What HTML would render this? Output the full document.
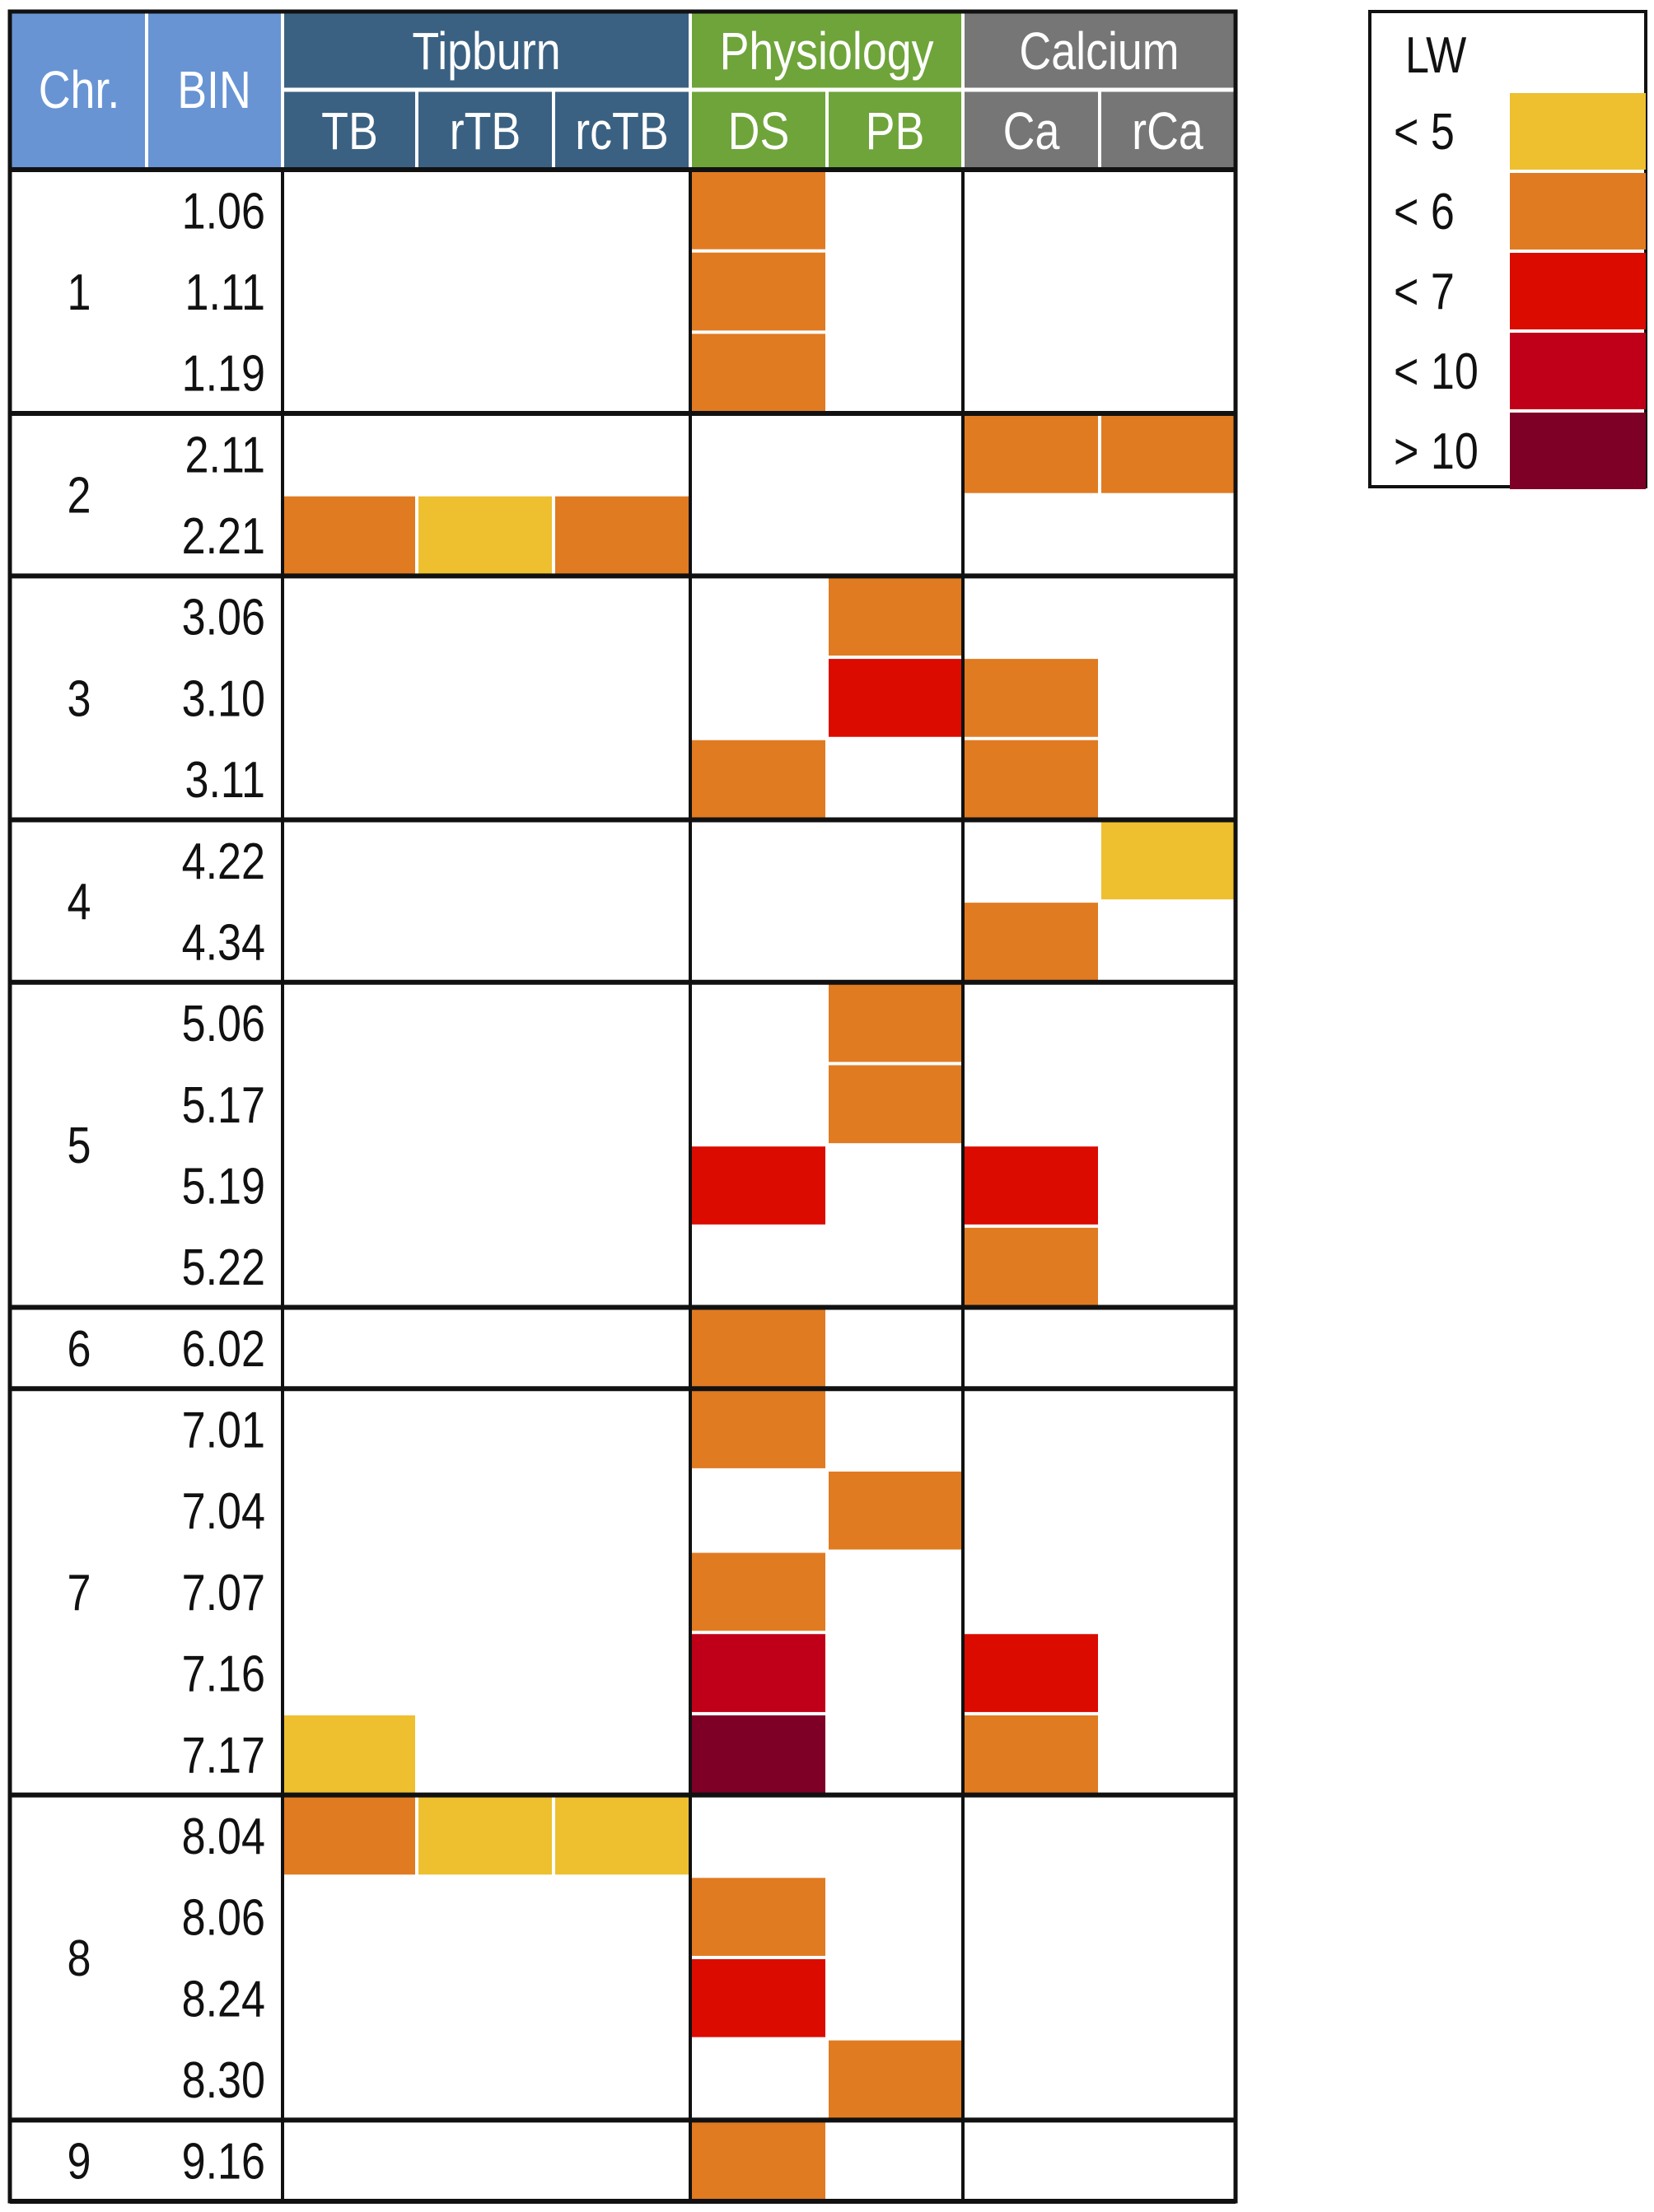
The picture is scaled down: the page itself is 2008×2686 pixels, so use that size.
<!DOCTYPE html>
<html><head><meta charset="utf-8"><style>
html,body{margin:0;padding:0;background:#fff;}
svg{display:block;font-family:"Liberation Sans",sans-serif;}
svg text{transform-box:fill-box;}
.c{transform-origin:center;transform:scaleX(0.84);}
.e{transform-origin:right;transform:scaleX(0.84);}
.s{transform-origin:left;transform:scaleX(0.84);}
</style></head><body>
<svg id="chart" width="2008" height="2686" viewBox="0 0 2008 2686" xmlns="http://www.w3.org/2000/svg"></svg>
<script>
const chromosomes = ["1","2","3","4","5","6","7","8","9"];
const groupSizes = [3,2,3,2,4,1,5,4,1];
const bins = ["1.06","1.11","1.19","2.11","2.21","3.06","3.10","3.11","4.22","4.34","5.06","5.17","5.19","5.22","6.02","7.01","7.04","7.07","7.16","7.17","8.04","8.06","8.24","8.30","9.16"];
const traits = ["TB","rTB","rcTB","DS","PB","Ca","rCa"];
// level per bin per trait: 0 none, 1 <5, 2 <6, 3 <7, 4 <10, 5 >10
const levels = [
[0,0,0,2,0,0,0],[0,0,0,2,0,0,0],[0,0,0,2,0,0,0],
[0,0,0,0,0,2,2],[2,1,2,0,0,0,0],
[0,0,0,0,2,0,0],[0,0,0,0,3,2,0],[0,0,0,2,0,2,0],
[0,0,0,0,0,0,1],[0,0,0,0,0,2,0],
[0,0,0,0,2,0,0],[0,0,0,0,2,0,0],[0,0,0,3,0,3,0],[0,0,0,0,0,2,0],
[0,0,0,2,0,0,0],
[0,0,0,2,0,0,0],[0,0,0,0,2,0,0],[0,0,0,2,0,0,0],[0,0,0,4,0,3,0],[1,0,0,5,0,2,0],
[2,1,1,0,0,0,0],[0,0,0,2,0,0,0],[0,0,0,3,0,0,0],[0,0,0,0,2,0,0],
[0,0,0,2,0,0,0]
];
const legendLabels = ["< 5","< 6","< 7","< 10","> 10"];
const levelColors = [null,"#EEC030","#E07B22","#DB0B00","#C00018","#7E0026"];

const svg = document.getElementById('chart');
const NS = "http://www.w3.org/2000/svg";
function el(tag, attrs, parent){const e=document.createElementNS(NS,tag);for(const k in attrs)e.setAttribute(k,attrs[k]);(parent||svg).appendChild(e);return e;}

const L=12, R=1500, T=14, HS=109, HB=206, B=2673;
const colX = [343,506,672,838,1004,1169,1335,1500];
const rowH = (B-HB)/bins.length;
const yOf = i => HB + i*rowH;
const colL = j => colX[j], colR = j => colX[j+1];

let h;
h=el('rect',{x:L,y:T,width:178-L,height:HB-T,fill:'#6894D4'});

h=el('rect',{x:178,y:T,width:343-178,height:HB-T,fill:'#6894D4'});

const groups=[["Tipburn",0,3,"#3B6182"],["Physiology",3,5,"#6EA43A"],["Calcium",5,7,"#767676"]];
groups.forEach(g=>{
  const r=el('rect',{x:colL(g[1]),y:T,width:colR(g[2]-1)-colL(g[1]),height:HB-T,fill:g[3]});
  
  
  const t=el('text',{x:(colL(g[1])+colR(g[2]-1))/2,y:84,'text-anchor':'middle','font-size':64,fill:'#fff',class:'c'});
  t.textContent=g[0];
  
  
});
el('line',{x1:178,y1:T,x2:178,y2:HB,stroke:'#fff','stroke-width':4});
el('line',{x1:343,y1:T,x2:343,y2:HB,stroke:'#fff','stroke-width':4});
el('line',{x1:343,y1:HS,x2:R,y2:HS,stroke:'#fff','stroke-width':5});
for(let j=1;j<7;j++) el('line',{x1:colX[j],y1:(j===3||j===5)?T:HS,x2:colX[j],y2:HB,stroke:'#fff','stroke-width':4});
let t=el('text',{x:96,y:131,'text-anchor':'middle','font-size':64,fill:'#fff',class:'c'});t.textContent="Chr.";

t=el('text',{x:260,y:131,'text-anchor':'middle','font-size':64,fill:'#fff',class:'c'});t.textContent="BIN";

traits.forEach((tr,j)=>{
  const tt=el('text',{x:(colL(j)+colR(j))/2,y:181,'text-anchor':'middle','font-size':64,fill:'#fff',class:'c'});
  tt.textContent=tr;
  
  
});

bins.forEach((b,i)=>{
  const y=yOf(i);
  const bt=el('text',{x:322,y:y+rowH/2+22,'text-anchor':'end','font-size':62,fill:'#111',class:'e'});
  bt.textContent=b;
  
  
  levels[i].forEach((lv,j)=>{
    if(!lv) return;
    const c=el('rect',{x:colL(j)+2,y:y+2,width:colR(j)-colL(j)-4,height:rowH-4,fill:levelColors[lv]});
    
    
  });
});

let start=0;
chromosomes.forEach((c,g)=>{
  const y0=yOf(start), y1=yOf(start+groupSizes[g]);
  const ct=el('text',{x:96,y:(y0+y1)/2+22,'text-anchor':'middle','font-size':62,fill:'#111',class:'c'});
  ct.textContent=c;
  
  
  el('line',{x1:L,y1:y0,x2:R,y2:y0,stroke:'#111','stroke-width':6});
  start+=groupSizes[g];
});
el('line',{x1:L,y1:B,x2:R,y2:B,stroke:'#111','stroke-width':6});
[343,838,1169].forEach(x=>el('line',{x1:x,y1:HB,x2:x,y2:B,stroke:'#111','stroke-width':4}));
el('rect',{x:L,y:T,width:R-L,height:B-T,fill:'none',stroke:'#111','stroke-width':5});

const lg=el('g',{});


const LX=1663, LY=14, LW=1998-LX, LR=97;
el('rect',{x:LX,y:LY,width:LW,height:LR*6-5,fill:'#fff',stroke:'#111','stroke-width':4},lg);
t=el('text',{x:1706,y:LY+74,'font-size':62,fill:'#111',class:'s'},lg);t.textContent="LW";

legendLabels.forEach((lab,k)=>{
  const y=LY+LR*(k+1);
  const r=el('rect',{x:1833,y:y+2,width:1998-1833,height:LR-4,fill:levelColors[k+1]},lg);
  
  
  const tx=el('text',{x:1692,y:y+70,'font-size':62,fill:'#111',class:'s'},lg);
  tx.textContent=lab;
  
  
});
</script>
</body></html>
